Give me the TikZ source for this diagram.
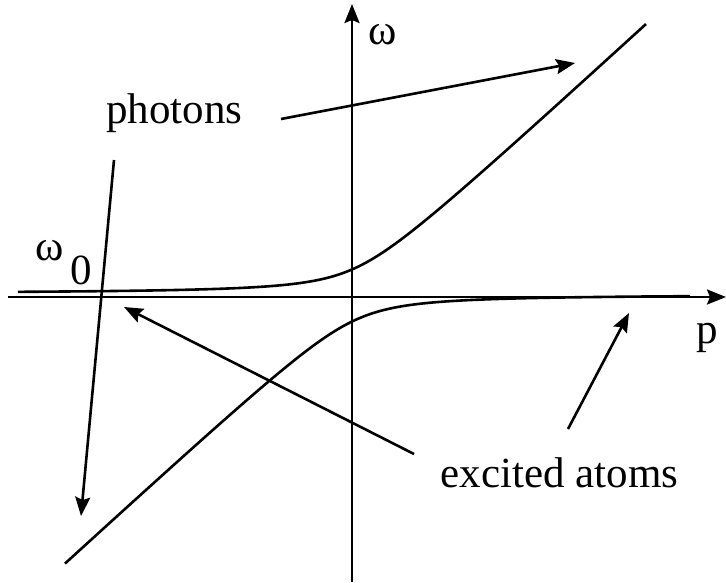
\documentclass[tikz,border=0pt]{standalone}
\usepackage{fontspec}
\setmainfont{Liberation Serif}
\usetikzlibrary{arrows.meta}
\begin{document}
\begin{tikzpicture}[x=1pt,y=-1pt,line width=2.6pt,
  arr/.style={-{Stealth[length=19pt,width=15pt,inset=3pt]}},
  lbl/.style={font=\fontsize{43}{50}\selectfont,inner sep=0pt,anchor=base}]
\useasboundingbox (0,0) rectangle (726,582);
% axes
\coordinate (xl) at (8,297); \coordinate (xr) at (726,297);
\coordinate (yb) at (352,582); \coordinate (yt) at (352,4);
\draw[arr] (xl) -- (xr);
\draw[arr] (yb) -- (yt);
% dispersion branches
\draw plot[domain=-33.4:29.4,samples=150,smooth] ({352+10*\x},{297-10*((0.3+0.92*\x)/2+sqrt(((0.92*\x-0.3)/2)^2+6.76))});
\draw plot[domain=-28.7:33.8,samples=150,smooth] ({352+10*\x},{297-10*((0.3+0.92*\x)/2-sqrt(((0.92*\x-0.3)/2)^2+6.76))});
% labels
\node[lbl] (w) at (383,44) {ω};
\node[lbl] (p) at (707,343) {p};
\node[lbl] (w0) at (50,260) {ω};
\node[lbl] (zero) at (81,284) {0};
\node[lbl] (photons) at (174.5,123) {photons};
\node[lbl] (atoms) at (559.5,487) {excited atoms};
% pointer arrows
\coordinate (ph1s) at (281,119); \coordinate (ph1e) at (575,63);
\coordinate (ph2s) at (114,160); \coordinate (ph2e) at (81,516);
\coordinate (at1s) at (414,454); \coordinate (at1e) at (124,307);
\coordinate (at2s) at (568,429); \coordinate (at2e) at (629,313);
\draw[arr] (ph1s) -- (ph1e);
\draw[arr] (ph2s) -- (ph2e);
\draw[arr] (at1s) -- (at1e);
\draw[arr] (at2s) -- (at2e);
\end{tikzpicture}
\end{document}
